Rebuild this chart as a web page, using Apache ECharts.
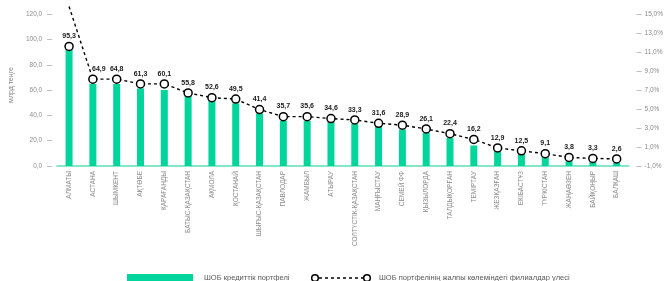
<!DOCTYPE html>
<html>
<head>
<meta charset="utf-8">
<script src="https://cdn.jsdelivr.net/npm/echarts@6/dist/echarts.min.js"></script>
<style>
html, body { margin: 0; padding: 0; background: #fff; }
#main { width: 666px; height: 281px; }
</style>
</head>
<body>
<div id="main"></div>
<script>
var regions = ['АЛМАТЫ', 'АСТАНА', 'ШЫМКЕНТ', 'АҚТӨБЕ', 'ҚАРАҒАНДЫ', 'БАТЫС-ҚАЗАҚСТАН', 'АҚМОЛА', 'ҚОСТАНАЙ',
    'ШЫҒЫС-ҚАЗАҚСТАН', 'ПАВЛОДАР', 'ЖАМБЫЛ', 'АТЫРАУ', 'СОЛТҮСТІК-ҚАЗАҚСТАН', 'МАҢҒЫСТАУ', 'СЕМЕЙ ФФ',
    'ҚЫЗЫЛОРДА', 'ТАЛДЫҚОРҒАН', 'ТЕМІРТАУ', 'ЖЕЗҚАЗҒАН', 'ЕКІБАСТҰЗ', 'ТҮРКІСТАН', 'ЖАҢАӨЗЕН', 'БАЙҚОҢЫР', 'БАЛҚАШ'];

// ШОБ кредиттік портфелі, млрд теңге
var portfolio = [95.3, 64.9, 64.8, 61.3, 60.1, 55.8, 52.6, 49.5, 41.4, 35.7, 35.6, 34.6,
    33.3, 31.6, 28.9, 26.1, 22.4, 16.2, 12.9, 12.5, 9.1, 3.8, 3.3, 2.6];

// филиалдар үлесі, % (markers as drawn)
var share = [11.6, 8.15, 8.15, 7.65, 7.65, 6.7, 6.2, 6.05, 4.95, 4.2, 4.2, 4.0,
    3.85, 3.5, 3.3, 2.9, 2.4, 1.8, 0.9, 0.6, 0.3, -0.1, -0.2, -0.25];

// dashed line (first point runs off the top of the plot)
var shareLine = [15.8, 8.15, 8.15, 7.65, 7.65, 6.7, 6.2, 6.05, 4.95, 4.2, 4.2, 4.0,
    3.85, 3.5, 3.3, 2.9, 2.4, 1.8, 0.9, 0.6, 0.3, -0.1, -0.2, -0.25];

var leftTicks = [0, 20, 40, 60, 80, 100, 120];
var rightTicks = [-1, 1, 3, 5, 7, 9, 11, 13, 15];

var barName = 'ШОБ кредиттік портфелі';
var lineName = 'ШОБ портфелінің жалпы көлеміндегі филиалдар үлесі';

function comma(v, d) {
    return v.toFixed(d).replace('.', ',');
}

var lineIcon = 'image://data:image/svg+xml;charset=utf-8,' + encodeURIComponent(
    '<svg xmlns="http://www.w3.org/2000/svg" width="62" height="10" viewBox="0 0 62 10">' +
    '<line x1="9" y1="5" x2="53" y2="5" stroke="#000" stroke-width="1.4" stroke-dasharray="3,3"/>' +
    '<circle cx="5" cy="5" r="3.3" fill="#fff" stroke="#000" stroke-width="1.5"/>' +
    '<circle cx="57" cy="5" r="3.3" fill="#fff" stroke="#000" stroke-width="1.5"/></svg>');

// the Astana label sits to the right of the steep segment
var markerData = share.map(function(v, i) {
    return i === 1 ? { value: v, label: { offset: [6, 0] } } : v;
});

var chart = echarts.init(document.getElementById('main'));
var font = 'Liberation Sans';
var option = {
    animation: false,
    textStyle: { fontFamily: font },
    grid: { left: 52, right: 35, top: 4, bottom: 115 },
    legend: [{
        data: [barName],
        left: 122, top: 269,
        itemWidth: 66, itemHeight: 8,
        icon: 'rect',
        textStyle: { fontSize: 7.5, color: '#595959', padding: [0, 0, 0, 6] }
    }, {
        data: [{ name: lineName, icon: lineIcon }],
        left: 305, top: 268,
        itemWidth: 62, itemHeight: 10,
        textStyle: { fontSize: 7.5, color: '#595959', padding: [0, 0, 0, 2] }
    }],
    xAxis: {
        type: 'category',
        data: regions,
        axisLine: { lineStyle: { color: '#86e6c8', width: 2 } },
        axisTick: { show: false },
        axisLabel: { rotate: 90, fontSize: 6.5, color: '#8c8c8c', margin: 5, interval: 0 }
    },
    yAxis: [{
        type: 'value',
        min: 0, max: 128,
        offset: 5,
        name: 'млрд теңге',
        nameLocation: 'middle',
        nameRotate: 90,
        nameGap: 29,
        nameTextStyle: { fontSize: 7, color: '#7f7f7f' },
        splitLine: { show: false },
        axisLine: { show: false },
        axisTick: { show: true, length: 5, lineStyle: { color: '#bfbfbf' }, customValues: leftTicks },
        axisLabel: {
            fontSize: 6.5, color: '#8c8c8c', margin: 10, customValues: leftTicks,
            formatter: function(v) { return comma(v, 1); }
        }
    }, {
        type: 'value',
        min: -1, max: -1 + 128 * 16 / 120,
        offset: 8,
        splitLine: { show: false },
        axisLine: { show: false },
        axisTick: { show: true, length: 5, lineStyle: { color: '#bfbfbf' }, customValues: rightTicks },
        axisLabel: {
            fontSize: 6.5, color: '#8c8c8c', margin: 8, customValues: rightTicks,
            formatter: function(v) { return comma(v, 1) + '%'; }
        }
    }],
    series: [{
        name: barName,
        type: 'bar',
        data: portfolio,
        barWidth: 7,
        itemStyle: { color: '#00d69c' }
    }, {
        name: 'line',
        type: 'line',
        yAxisIndex: 1,
        data: shareLine,
        symbol: 'none',
        lineStyle: { color: '#000', width: 1.4, type: [3, 3] },
        z: 3
    }, {
        name: lineName,
        type: 'line',
        yAxisIndex: 1,
        data: markerData,
        symbol: 'circle',
        symbolSize: 8,
        lineStyle: { width: 0 },
        itemStyle: { color: '#fff', borderColor: '#000', borderWidth: 1.5 },
        label: {
            show: true,
            position: 'top',
            distance: 2,
            fontSize: 7,
            fontWeight: 'bold',
            color: '#1a1a1a',
            formatter: function(p) {
                return comma(portfolio[p.dataIndex], 1);
            }
        },
        z: 4
    }]
};
chart.setOption(option);
</script>
</body>
</html>
